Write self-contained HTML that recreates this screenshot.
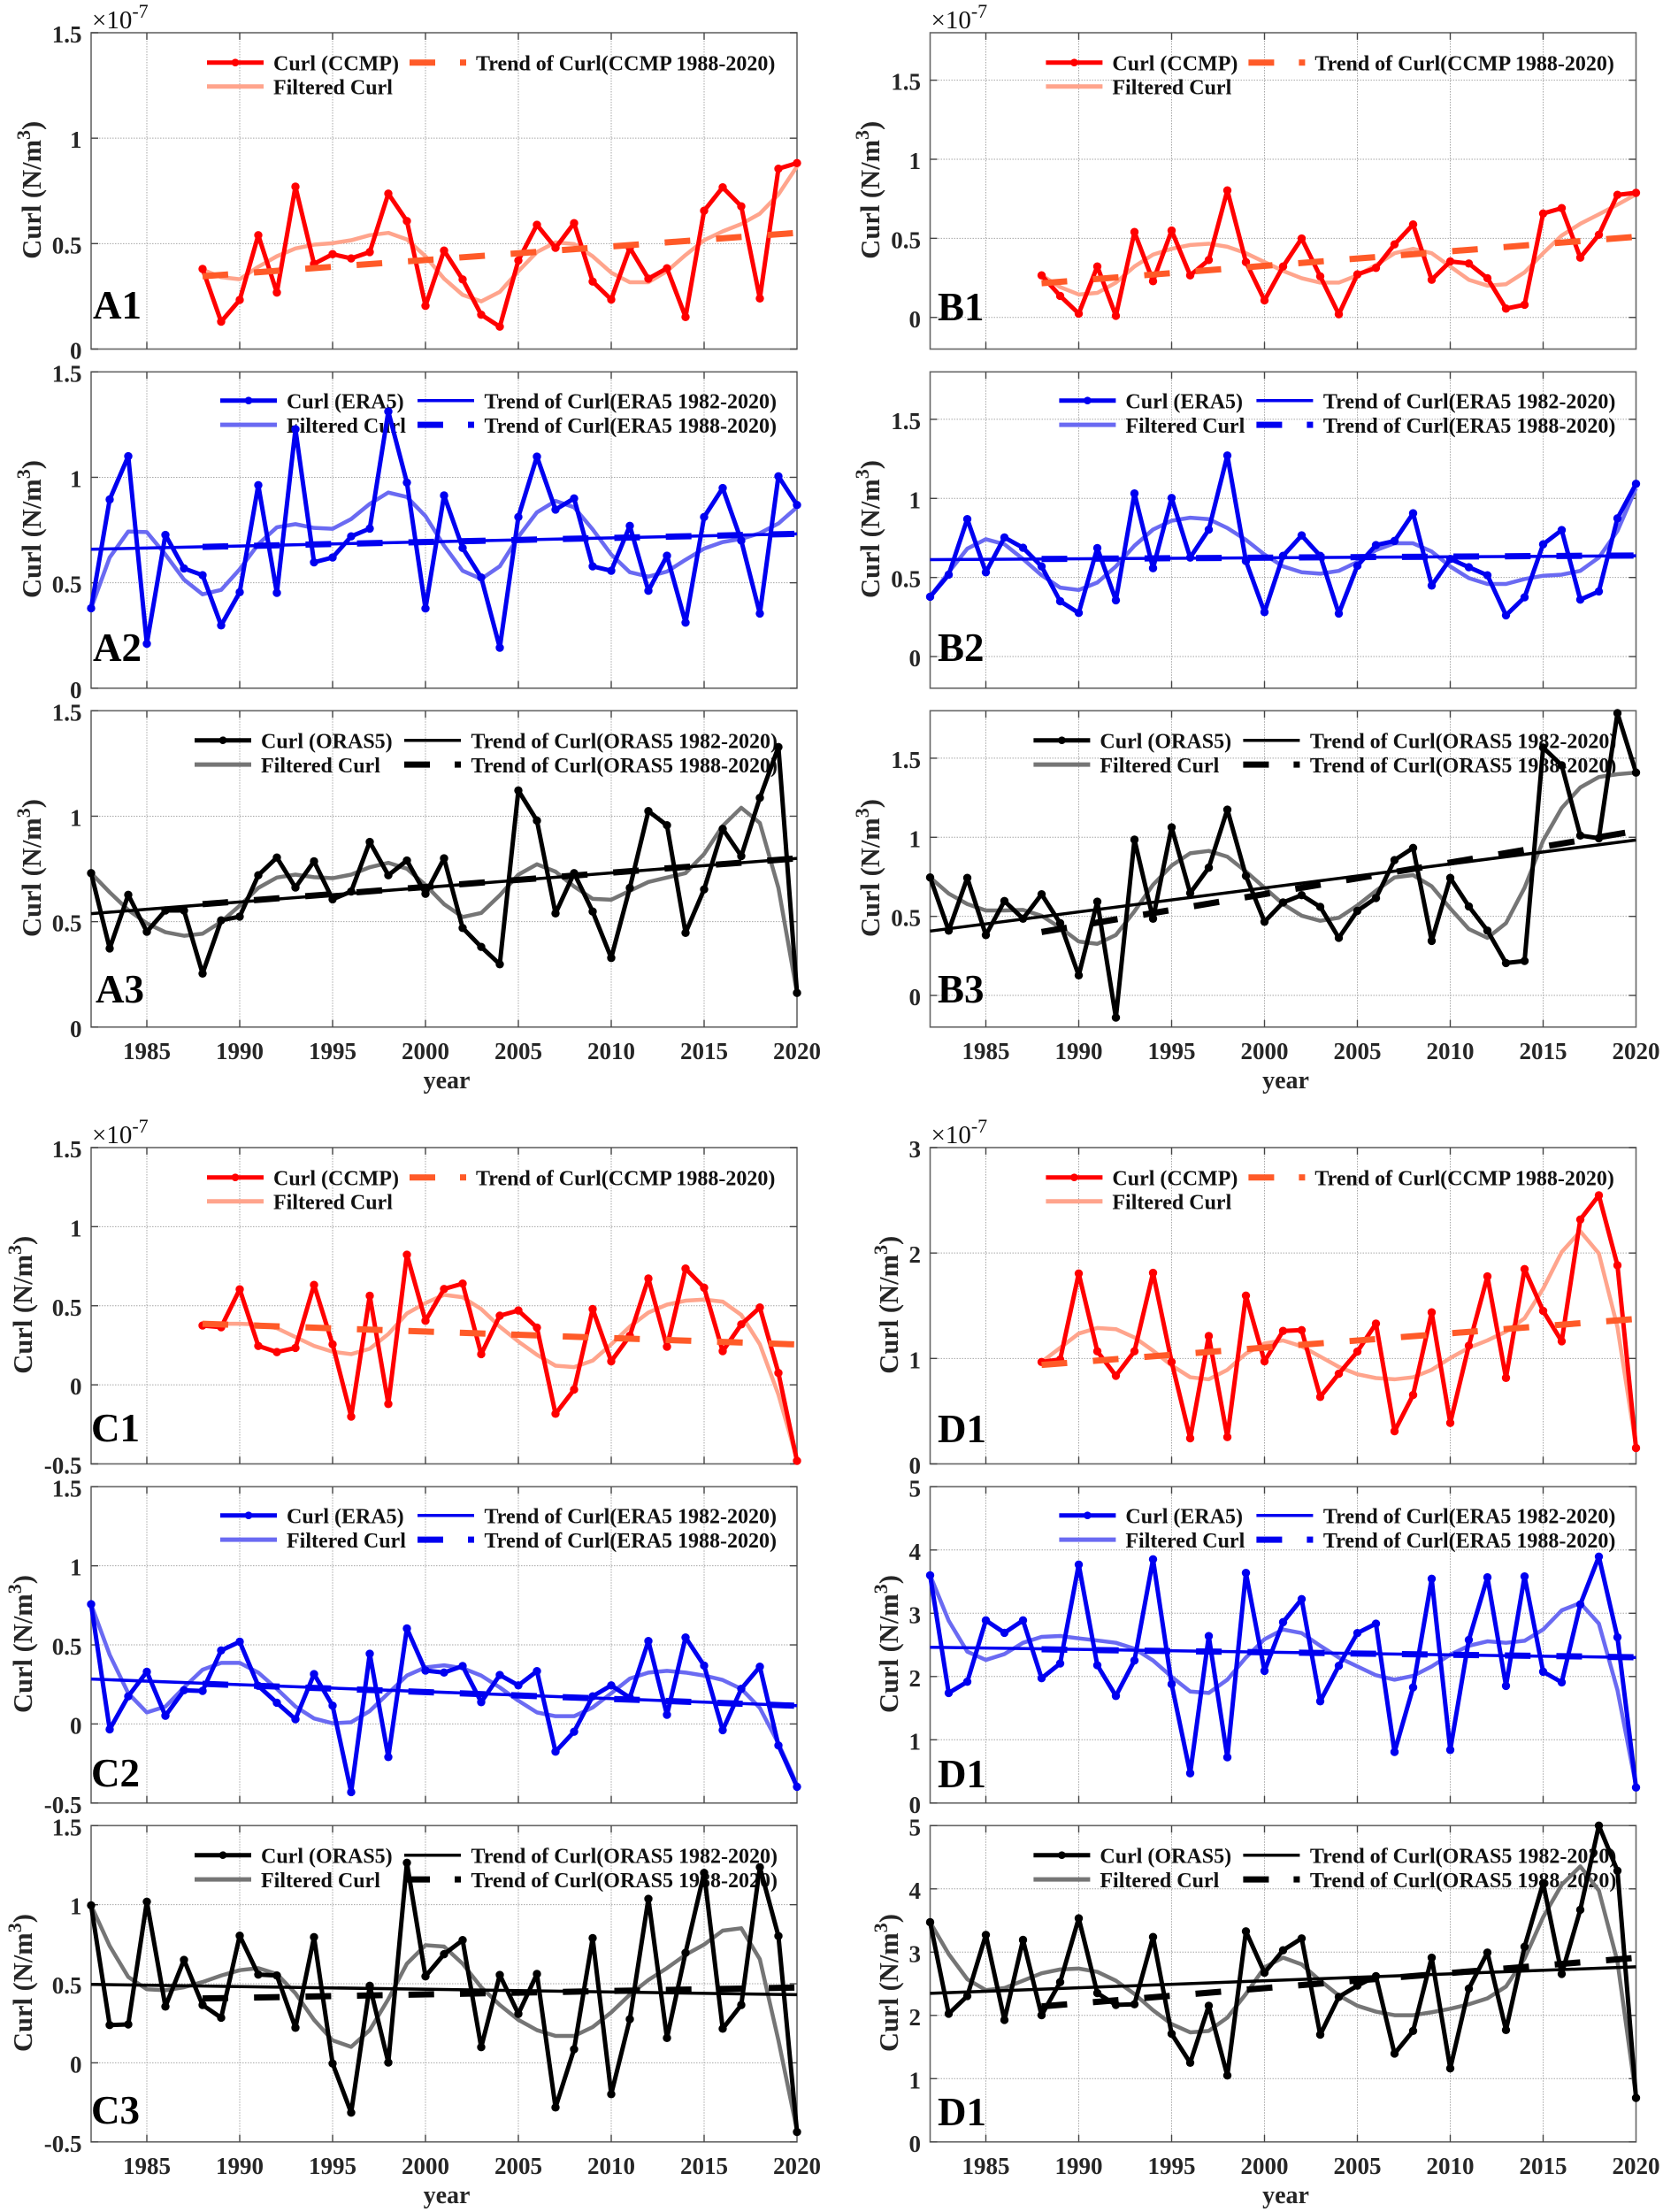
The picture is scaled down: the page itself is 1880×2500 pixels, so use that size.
<!DOCTYPE html>
<html lang="en">
<head>
<meta charset="utf-8">
<title>Curl time series panels</title>
<style>
html,body{margin:0;padding:0;background:#fff;width:1880px;height:2500px;overflow:hidden}
svg{display:block}
text{font-family:"Liberation Serif",serif}
</style>
</head>
<body>
<svg id="figure" xmlns="http://www.w3.org/2000/svg" width="1880" height="2500" viewBox="0 0 1880 2500"></svg>
<script>
/* ---------- shared axis data ---------- */
const xTickYears = [1985, 1990, 1995, 2000, 2005, 2010, 2015, 2020];
const ticksABC = [0, 0.5, 1, 1.5];
const ticksC = [-0.5, 0, 0.5, 1, 1.5];
const ticksD1 = [0, 1, 2, 3];
const ticksD23 = [0, 1, 2, 3, 4, 5];

/* ---------- A column ---------- */
const a1Curl = [.38,.13,.233,.54,.268,.77,.404,.45,.43,.46,.737,.607,.205,.467,.33,.163,.106,.42,.589,.48,.597,.32,.235,.48,.334,.383,.152,.656,.767,.677,.24,.855,.882];
const a1Filtered = [.376,.341,.331,.39,.44,.477,.495,.502,.516,.54,.551,.52,.44,.334,.257,.226,.271,.369,.46,.506,.498,.44,.362,.317,.317,.369,.446,.516,.558,.593,.642,.733,.866];
const a1TrendLate = [.345,.551];

const a2Curl = [.379,.895,1.10,.211,.727,.568,.536,.298,.455,.963,.452,1.228,.597,.62,.72,.757,1.312,.975,.378,.914,.665,.525,.192,.812,1.098,.847,.90,.578,.557,.77,.462,.628,.311,.812,.949,.70,.354,1.005,.869];
const a2Filtered = [.379,.62,.743,.74,.634,.515,.445,.466,.564,.683,.763,.778,.76,.756,.802,.874,.928,.907,.816,.676,.557,.518,.578,.718,.834,.888,.858,.753,.634,.55,.529,.553,.609,.662,.693,.708,.735,.781,.858];
const a2TrendFull = [.659,.732];
const a2TrendLate = [.67,.732];

const a3Curl = [.73,.373,.627,.452,.553,.553,.254,.506,.524,.72,.804,.662,.786,.606,.643,.878,.72,.79,.632,.80,.47,.38,.298,1.122,.979,.539,.73,.548,.328,.66,1.024,.957,.447,.653,.94,.811,1.087,1.328,.162];
const a3Filtered = [.73,.639,.555,.492,.45,.433,.443,.499,.576,.66,.709,.723,.711,.706,.723,.758,.779,.751,.674,.583,.522,.541,.625,.723,.772,.737,.667,.608,.604,.646,.688,.709,.73,.821,.954,1.04,.968,.66,.162];
const a3TrendFull = [.538,.80];
const a3TrendLate = [.583,.80];

/* ---------- B column ---------- */
const b1Curl = [.266,.136,.024,.322,.01,.54,.229,.549,.266,.363,.803,.35,.108,.322,.499,.26,.02,.272,.313,.462,.588,.238,.354,.341,.248,.056,.08,.657,.691,.378,.523,.775,.788];
const b1Filtered = [.266,.192,.145,.155,.22,.322,.397,.434,.458,.466,.447,.406,.35,.294,.248,.22,.22,.266,.331,.406,.434,.406,.322,.238,.201,.21,.285,.406,.518,.592,.652,.713,.778];
const b1TrendLate = [.216,.51];

const b2Curl = [.378,.518,.869,.533,.753,.688,.57,.35,.276,.686,.356,1.031,.559,1.003,.626,.803,1.271,.604,.281,.637,.766,.637,.272,.574,.705,.731,.906,.449,.617,.565,.514,.261,.375,.71,.8,.36,.412,.874,1.092];
const b2Filtered = [.378,.533,.682,.742,.71,.617,.514,.436,.421,.468,.57,.701,.803,.859,.878,.869,.813,.738,.645,.57,.533,.524,.542,.598,.673,.716,.716,.664,.57,.496,.459,.459,.49,.511,.518,.542,.626,.794,1.064];
const b2TrendFull = [.613,.637];
const b2TrendLate = [.617,.639];

const b3Curl = [.746,.41,.743,.382,.597,.485,.64,.457,.127,.593,-.14,.985,.485,1.063,.647,.808,1.175,.756,.466,.588,.634,.56,.364,.535,.616,.856,.933,.345,.743,.563,.41,.205,.218,1.567,1.455,1.011,.994,1.785,1.409];
const b3Filtered = [.746,.644,.578,.537,.537,.541,.504,.429,.341,.326,.382,.532,.70,.821,.899,.914,.877,.784,.681,.578,.504,.472,.491,.569,.662,.746,.761,.69,.55,.42,.364,.457,.681,.979,1.185,1.315,1.381,1.399,1.409];
const b3TrendFull = [.407,.983];
const b3TrendLate = [.401,1.04];

/* ---------- C column ---------- */
const c1Curl = [.375,.364,.604,.246,.207,.233,.632,.256,-.201,.563,-.121,.823,.405,.606,.64,.194,.437,.47,.362,-.183,-.03,.479,.149,.31,.672,.241,.735,.614,.213,.382,.489,.075,-.481];
const c1Filtered = [.375,.386,.386,.382,.358,.302,.246,.209,.194,.228,.321,.451,.517,.569,.554,.479,.368,.274,.19,.121,.112,.153,.256,.368,.457,.507,.532,.539,.526,.442,.256,-.062,-.472];
const c1TrendLate = [.386,.255];

const c2Curl = [.757,-.034,.175,.33,.052,.213,.209,.465,.52,.241,.134,.03,.315,.116,-.431,.444,-.209,.604,.338,.325,.366,.138,.31,.244,.334,-.175,-.049,.175,.244,.166,.524,.058,.547,.369,-.039,.222,.362,-.136,-.397];
const c2Filtered = [.757,.437,.194,.073,.11,.231,.343,.386,.386,.325,.222,.11,.035,.004,.011,.082,.194,.306,.358,.371,.353,.306,.231,.147,.073,.049,.049,.104,.194,.287,.325,.336,.325,.306,.278,.222,.101,-.123,-.384];
const c2TrendFull = [.284,.116];
const c2TrendLate = [.254,.115];

const c3Curl = [.996,.239,.243,1.019,.356,.651,.366,.285,.804,.558,.552,.222,.795,-.004,-.315,.487,.002,1.265,.547,.687,.776,.099,.556,.31,.562,-.282,.086,.789,-.198,.276,1.037,.157,.696,1.201,.216,.366,1.237,.802,-.437];
const c3Filtered = [.996,.739,.543,.465,.459,.478,.511,.552,.586,.599,.562,.44,.272,.142,.101,.207,.403,.627,.744,.735,.627,.478,.366,.272,.207,.17,.17,.226,.319,.431,.524,.599,.683,.748,.836,.851,.655,.142,-.427];
const c3TrendFull = [.496,.431];
const c3TrendLate = [.407,.476];

/* ---------- D column ---------- */
const d1Curl = [.967,.99,1.806,1.068,.836,1.068,1.812,.967,.243,1.213,.254,1.596,.973,1.261,1.269,.635,.855,1.065,1.331,.31,.654,1.437,.389,1.121,1.778,.816,1.848,1.451,1.163,2.318,2.547,1.884,.151];
const d1Filtered = [.967,1.101,1.236,1.289,1.278,1.199,1.074,.934,.822,.802,.892,1.046,1.143,1.171,1.115,1.018,.92,.85,.814,.802,.822,.892,1.004,1.101,1.171,1.255,1.381,1.661,2.01,2.206,1.996,1.297,.165];
const d1TrendLate = [.939,1.375];

const d2Curl = [3.6,1.74,1.917,2.887,2.691,2.887,1.973,2.206,3.769,2.178,1.693,2.253,3.853,1.88,.471,2.64,.723,3.638,2.09,2.859,3.223,1.609,2.169,2.687,2.836,.807,1.828,3.545,.84,2.579,3.568,1.852,3.582,2.076,1.908,3.139,3.895,2.621,.247];
const d2Filtered = [3.6,2.882,2.393,2.262,2.355,2.533,2.626,2.64,2.603,2.57,2.533,2.439,2.253,1.996,1.763,1.74,1.95,2.3,2.589,2.743,2.687,2.486,2.3,2.16,2.02,1.95,2.01,2.16,2.346,2.486,2.556,2.533,2.565,2.743,3.046,3.162,2.836,1.786,.27];
const d2TrendFull = [2.463,2.3];
const d2TrendLate = [2.43,2.305];

const d3Curl = [3.473,2.026,2.306,3.273,1.928,3.193,2.003,2.526,3.534,2.353,2.166,2.176,3.24,1.709,1.251,2.152,1.05,3.329,2.675,3.03,3.217,1.695,2.292,2.47,2.62,1.396,1.755,2.913,1.162,2.423,2.993,1.769,3.086,4.09,2.656,3.669,5.0,4.286,.696];
const d3Filtered = [3.473,2.969,2.572,2.4,2.432,2.549,2.666,2.726,2.74,2.689,2.549,2.339,2.082,1.863,1.732,1.755,1.965,2.339,2.759,2.913,2.806,2.549,2.316,2.152,2.059,2.003,2.003,2.05,2.105,2.176,2.269,2.456,2.899,3.553,4.066,4.356,3.973,2.852,.714];
const d3TrendFull = [2.348,2.768];
const d3TrendLate = [2.143,2.91];

/* ---------- layout (not data) ---------- */
const NS = 'http://www.w3.org/2000/svg';
const svg = document.getElementById('figure');
const FIRST_YEAR = 1982, LAST_YEAR = 2020;
const colLeft = {A: 103, B: 1051.5, C: 103, D: 1051.5};
const PLOT_W = 798;
const PLOT_H = 357.5;

const themes = {
  ccmp: {source: 'CCMP', curl: '#ff0000', filtered: '#ffa48c', late: '#ff5a28', full: null, legendX: 234},
  era5: {source: 'ERA5', curl: '#0000f0', filtered: '#6a6af2', late: '#0000f0', full: '#0000f0', legendX: 249},
  oras5: {source: 'ORAS5', curl: '#000000', filtered: '#757575', late: '#000000', full: '#000000', legendX: 220}
};

const panels = [
  {id:'a1', label:'A1', col:'A', top:37, yMin:0, yMax:1.5, ticks:ticksABC, theme:'ccmp', curl:a1Curl, filtered:a1Filtered, late:a1TrendLate, labelX:105, labelY:360, yLabelX:46},
  {id:'a2', label:'A2', col:'A', top:420.3, yMin:0, yMax:1.5, ticks:ticksABC, theme:'era5', curl:a2Curl, filtered:a2Filtered, full:a2TrendFull, late:a2TrendLate, labelX:105, labelY:747, yLabelX:46},
  {id:'a3', label:'A3', col:'A', top:803.3, yMin:0, yMax:1.5, ticks:ticksABC, theme:'oras5', curl:a3Curl, filtered:a3Filtered, full:a3TrendFull, late:a3TrendLate, labelX:108, labelY:1133, yLabelX:46, bottom:true},
  {id:'b1', label:'B1', col:'B', top:37, yMin:-0.2, yMax:1.8, ticks:ticksABC, theme:'ccmp', curl:b1Curl, filtered:b1Filtered, late:b1TrendLate, labelX:1060, labelY:362, yLabelX:994},
  {id:'b2', label:'B2', col:'B', top:420.3, yMin:-0.2, yMax:1.8, ticks:ticksABC, theme:'era5', curl:b2Curl, filtered:b2Filtered, full:b2TrendFull, late:b2TrendLate, labelX:1060, labelY:747, yLabelX:994},
  {id:'b3', label:'B3', col:'B', top:803.3, yMin:-0.2, yMax:1.8, ticks:ticksABC, theme:'oras5', curl:b3Curl, filtered:b3Filtered, full:b3TrendFull, late:b3TrendLate, labelX:1060, labelY:1133, yLabelX:994, bottom:true},
  {id:'c1', label:'C1', col:'C', top:1297, yMin:-0.5, yMax:1.5, ticks:ticksC, theme:'ccmp', curl:c1Curl, filtered:c1Filtered, late:c1TrendLate, labelX:103, labelY:1629, yLabelX:36},
  {id:'c2', label:'C2', col:'C', top:1680.3, yMin:-0.5, yMax:1.5, ticks:ticksC, theme:'era5', curl:c2Curl, filtered:c2Filtered, full:c2TrendFull, late:c2TrendLate, labelX:103, labelY:2019, yLabelX:36},
  {id:'c3', label:'C3', col:'C', top:2063.3, yMin:-0.5, yMax:1.5, ticks:ticksC, theme:'oras5', curl:c3Curl, filtered:c3Filtered, full:c3TrendFull, late:c3TrendLate, labelX:103, labelY:2400, yLabelX:36, bottom:true},
  {id:'d1', label:'D1', col:'D', top:1297, yMin:0, yMax:3, ticks:ticksD1, theme:'ccmp', curl:d1Curl, filtered:d1Filtered, late:d1TrendLate, labelX:1060, labelY:1630, yLabelX:1015},
  {id:'d2', label:'D1', col:'D', top:1680.3, yMin:0, yMax:5, ticks:ticksD23, theme:'era5', curl:d2Curl, filtered:d2Filtered, full:d2TrendFull, late:d2TrendLate, labelX:1060, labelY:2020, yLabelX:1015},
  {id:'d3', label:'D1', col:'D', top:2063.3, yMin:0, yMax:5, ticks:ticksD23, theme:'oras5', curl:d3Curl, filtered:d3Filtered, full:d3TrendFull, late:d3TrendLate, labelX:1060, labelY:2402, yLabelX:1015, bottom:true}
];

function make(tag, attrs, parent, text) {
  const el = document.createElementNS(NS, tag);
  for (const k in attrs) el.setAttribute(k, attrs[k]);
  if (text !== undefined) el.textContent = text;
  parent.appendChild(el);
  return el;
}
function polyPoints(values, xs, ys) {
  const start = LAST_YEAR - values.length + 1;
  return values.map((v, i) => xs(start + i).toFixed(2) + ',' + ys(v).toFixed(2)).join(' ');
}

panels.forEach(function (p) {
  const left = colLeft[p.col];
  const right = left + PLOT_W;
  const top = p.top;
  const bottom = top + PLOT_H;
  const t = themes[p.theme];
  const xs = y => left + (y - FIRST_YEAR) / (LAST_YEAR - FIRST_YEAR) * PLOT_W;
  const ys = v => bottom - (v - p.yMin) / (p.yMax - p.yMin) * PLOT_H;
  const legendShift = (p.col === 'B' || p.col === 'D') ? 948.4 : 0;
  const legendY = top + (p.theme === 'ccmp' ? 33.7 : (p.theme === 'era5' ? 32.4 : 33.4));
  const rowGap = p.theme === 'ccmp' ? 27 : 27.4;

  const g = make('g', {}, svg);
  
  

  /* grid */
  const grid = make('g', {stroke: '#a6a6a6', 'stroke-width': 1, 'stroke-dasharray': '1.5 1.5', fill: 'none'}, g);
  
  
  xTickYears.forEach(function (y) {
    if (y !== LAST_YEAR) make('line', {x1: xs(y), x2: xs(y), y1: top, y2: bottom}, grid);
  });
  p.ticks.forEach(function (v) {
    if (v !== p.yMin && v !== p.yMax) make('line', {x1: left, x2: right, y1: ys(v), y2: ys(v)}, grid);
  });

  /* box + tick marks */
  const box = make('rect', {x: left, y: top, width: PLOT_W, height: PLOT_H, fill: 'none', stroke: '#666', 'stroke-width': 1.6}, g);
  
  
  const marks = make('g', {stroke: '#444', 'stroke-width': 1.4}, g);
  
  
  xTickYears.forEach(function (y) {
    if (y === LAST_YEAR) return;
    make('line', {x1: xs(y), x2: xs(y), y1: bottom, y2: bottom - 8}, marks);
    make('line', {x1: xs(y), x2: xs(y), y1: top, y2: top + 8}, marks);
  });
  p.ticks.forEach(function (v) {
    make('line', {x1: left, x2: left + 8, y1: ys(v), y2: ys(v)}, marks);
    make('line', {x1: right, x2: right - 8, y1: ys(v), y2: ys(v)}, marks);
  });

  /* y tick labels */
  const yRight = left - 10.5;
  p.ticks.forEach(function (v) {
    const lab = make('text', {x: yRight, y: ys(v) + 11, 'text-anchor': 'end', 'font-size': 27, 'font-weight': 700, fill: '#262626'}, g, String(v));
    
    
  });

  /* exponent */
  if (p.theme === 'ccmp') {
    const ex = make('text', {x: left + 1, y: top - 5, 'font-size': 29, fill: '#111'}, g);
    
    
    make('tspan', {}, ex, '×10');
    make('tspan', {dy: -12, 'font-size': 22}, ex, '-7');
  }

  /* x tick labels + title */
  if (p.bottom) {
    xTickYears.forEach(function (y) {
      const lab = make('text', {x: xs(y), y: bottom + 36, 'text-anchor': 'middle', 'font-size': 27, 'font-weight': 700, fill: '#262626'}, g, String(y));
      
      
    });
    const xt = make('text', {x: left + 402, y: bottom + 69, 'text-anchor': 'middle', 'font-size': 28, 'font-weight': 700, fill: '#262626'}, g, 'year');
    
    
  }

  /* y axis title */
  const cy = top + PLOT_H / 2 - 1;
  const yt = make('text', {x: p.yLabelX, y: cy, 'text-anchor': 'middle', 'font-size': 30.5, 'font-weight': 700, fill: '#262626', transform: 'rotate(-90 ' + p.yLabelX + ' ' + cy + ')'}, g);
  
  
  make('tspan', {}, yt, 'Curl (N/m');
  make('tspan', {dy: -12, 'font-size': 22}, yt, '3');
  make('tspan', {dy: 12}, yt, ')');

  /* legend (drawn beneath the data, as in the source figure) */
  const lg = make('g', {'font-size': 24, 'font-weight': 700, fill: '#111'}, g);
  
  
  const lx = t.legendX + legendShift;
  const r1 = legendY, r2 = legendY + rowGap;
  make('line', {x1: lx, x2: lx + 64, y1: r1, y2: r1, stroke: t.curl, 'stroke-width': 5}, lg);
  make('circle', {cx: lx + 32, cy: r1, r: 4.3, fill: t.curl}, lg);
  make('text', {x: lx + 75, y: r1 + 9}, lg, 'Curl (' + t.source + ')');
  make('line', {x1: lx, x2: lx + 64, y1: r2, y2: r2, stroke: t.filtered, 'stroke-width': 5}, lg);
  make('text', {x: lx + 75, y: r2 + 9}, lg, 'Filtered Curl');
  const col2 = t.legendX + legendShift + (p.theme === 'ccmp' ? 229 : (p.theme === 'era5' ? 223 : 237));
  const txt2 = col2 + (p.theme === 'ccmp' ? 75 : 75.5);
  const dashRow = p.theme === 'ccmp' ? r1 : r2;
  if (t.full) {
    make('line', {x1: col2, x2: col2 + 64, y1: r1, y2: r1, stroke: t.full, 'stroke-width': 3.5}, lg);
    make('text', {x: txt2, y: r1 + 9}, lg, 'Trend of Curl(' + t.source + ' 1982-2020)');
  }
  make('line', {x1: col2, x2: col2 + 29, y1: dashRow, y2: dashRow, stroke: t.late, 'stroke-width': 7}, lg);
  make('line', {x1: col2 + 57, x2: col2 + 64, y1: dashRow, y2: dashRow, stroke: t.late, 'stroke-width': 7}, lg);
  make('text', {x: txt2, y: dashRow + 9}, lg, 'Trend of Curl(' + t.source + ' 1988-2020)');

  /* series */
  const filt = make('polyline', {points: polyPoints(p.filtered, xs, ys), fill: 'none', stroke: t.filtered, 'stroke-width': 4.5, 'stroke-linejoin': 'round'}, g);
  
  

  const curl = make('polyline', {points: polyPoints(p.curl, xs, ys), fill: 'none', stroke: t.curl, 'stroke-width': 5, 'stroke-linejoin': 'round'}, g);
  
  

  const startYear = LAST_YEAR - p.curl.length + 1;
  p.curl.forEach(function (v, i) {
    const c = make('circle', {cx: xs(startYear + i), cy: ys(v), r: 4.7, fill: t.curl}, g);
    
    
  });

  if (p.full) {
    const tf = make('line', {x1: xs(1982), y1: ys(p.full[0]), x2: xs(2020), y2: ys(p.full[1]), stroke: t.full, 'stroke-width': 3.5}, g);
    
    
  }
  const tl = make('line', {x1: xs(1988), y1: ys(p.late[0]), x2: xs(2020), y2: ys(p.late[1]), stroke: t.late, 'stroke-width': 7, 'stroke-dasharray': '29 29.2'}, g);
  
  

  /* panel tag */
  const tag = make('text', {x: p.labelX, y: p.labelY, 'font-size': 45, 'font-weight': 700, fill: '#000'}, g, p.label);
  
  
});
</script>
</body>
</html>
